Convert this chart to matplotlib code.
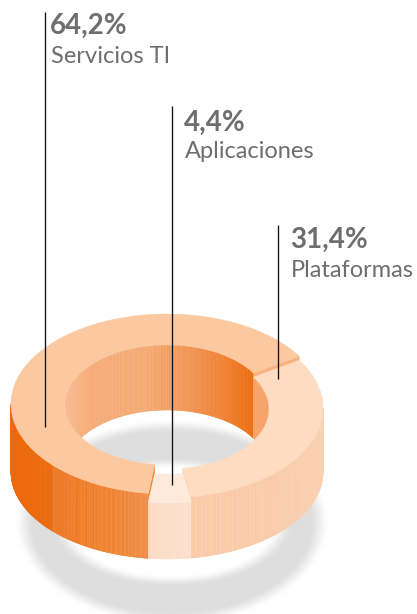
import numpy as np
import matplotlib
matplotlib.use("Agg")
import matplotlib.pyplot as plt
from matplotlib.collections import PolyCollection
from matplotlib.colors import to_rgb

# --- data
categories = ["Servicios TI", "Aplicaciones", "Plataformas"]
shares = [64.2, 4.4, 31.4]
share_labels = ["64,2%", "4,4%", "31,4%"]

# --- style
TOP = ["#fcc89f", "#feeadb", "#fddcc2"]
GREY = "#6e6e6e"
START = 32.0
CX, RX, RXI, RY, RYI = 167.0, 156.0, 102.0, 90.0, 60.0
CY = [404.0, 413.0, 408.0]       # top-face centre of each piece (outer)
BOT_CY, BOT_RY = 472.0, 87.0
IBOT_CY, IBOT_RY = 470.0, 60.0

fig = plt.figure(figsize=(4.17, 6.14), dpi=100)
ax = fig.add_axes([0, 0, 1, 1])
ax.set_xlim(0, 417)
ax.set_ylim(614, 0)
ax.axis("off")

# angular spans derived from the shares
edges = START + np.cumsum([0] + shares) * 3.6


def smooth(v):
    v = np.clip(v, 0, 1)
    return v * v * (3 - 2 * v)


# soft shadow ring
yy, xx = np.mgrid[0:614, 0:417] + 0.5
ro = np.hypot((xx - 172) / 158, (yy - 522) / 103)
ri = np.hypot((xx - 172) / 100, (yy - 522) / 53)
v = smooth((1.0 - ro) / 0.13) * smooth((ri - 1.0) / 0.22)
img = 1 - v[..., None] * (1 - np.array(to_rgb("#dddedd")))
ax.imshow(img, extent=(0, 417, 614, 0), zorder=1, aspect="auto", interpolation="bilinear")
ax.set_xlim(0, 417)
ax.set_ylim(614, 0)


def stripe(x):
    return 0.5 + 0.5 * np.sin(x * 2.7) * np.sin(x * 0.61 + 1.0) * np.cos(x * 0.23)


def wall(a0, a1, rx, top_cy, top_ry, bot_cy, bot_ry, stops, amp, z):
    """Vertical wall between angles a0..a1 coloured by pixel column."""
    t = np.radians(np.linspace(a0, a1, int(abs(a1 - a0) * 2) + 2))
    x = CX + rx * np.cos(t)
    yt = top_cy - top_ry * np.sin(t)
    yb = bot_cy - bot_ry * np.sin(t)
    polys, cols = [], []
    sx, sc = zip(*[(p, to_rgb(c)) for p, c in stops])
    sc = np.array(sc)
    for i in range(len(t) - 1):
        polys.append([(x[i], yt[i]), (x[i + 1], yt[i + 1]), (x[i + 1], yb[i + 1]), (x[i], yb[i])])
        xm = (x[i] + x[i + 1]) / 2
        c = np.array([np.interp(xm, sx, sc[:, k]) for k in range(3)])
        m = amp(xm) * stripe(xm)
        cols.append(c + (1 - c) * m)
    ax.add_collection(PolyCollection(polys, facecolors=cols, edgecolors=cols, linewidths=0.4, zorder=z))


def top_face(a0, a1, cy, color, z):
    t = np.radians(np.linspace(a0, a1, 200))
    oy = cy - RY * np.sin(t)
    iy = cy + 1 - RYI * np.sin(t)
    ox, ix = CX + RX * np.cos(t), CX + RXI * np.cos(t)
    pts = np.r_[np.c_[ox, oy], np.c_[ix, iy][::-1]]
    ax.fill(pts[:, 0], pts[:, 1], color=color, lw=0.3, zorder=z)


def end_face(a, cy, drop, color, z):
    t = np.radians(a)
    p = [(CX + RX * np.cos(t), cy - RY * np.sin(t)), (CX + RXI * np.cos(t), cy + 1 - RYI * np.sin(t))]
    q = [(p[1][0], p[1][1] + drop), (p[0][0], p[0][1] + drop)]
    arr = np.array(p + q)
    ax.fill(arr[:, 0], arr[:, 1], color=color, lw=0.3, zorder=z)


# inner back walls
wall(edges[0], 180, RXI, CY[0] + 1, RYI, IBOT_CY, IBOT_RY,
     [(65, "#f7b88c"), (90, "#f5a56c"), (150, "#f39a5a"), (200, "#f08438"), (253, "#ec6a0c")],
     lambda x: 0.3 * (1 - abs(x - 140) / 160), 2)
wall(0, edges[0], RXI, CY[2] + 1, RYI, IBOT_CY, IBOT_RY,
     [(253, "#f6a46c"), (270, "#f6a46c")], lambda x: 0.0, 2)

# outer front walls
wall(180, edges[1], RX, CY[0], RY, BOT_CY, BOT_RY,
     [(11, "#ec6a0c"), (53, "#ec6a0c"), (100, "#ee7418"), (147, "#ef8236")],
     lambda x: 0.0 if x < 53 else 0.18, 3)
wall(edges[1], edges[2], RX, CY[1], RY, BOT_CY, BOT_RY,
     [(146, "#fbd6bb"), (190, "#fcdcc6")], lambda x: 0.25, 3)
wall(edges[2], 360, RX, CY[2], RY, BOT_CY, BOT_RY,
     [(190, "#f9c39a"), (260, "#fac49c"), (323, "#fbcba9")], lambda x: 0.25, 3)

# faces exposed by the offset pieces
end_face(edges[0], CY[0], CY[2] - CY[0], "#f9b27e", 4)
end_face(edges[1], CY[0], CY[1] - CY[0], "#f08a3f", 4)
end_face(edges[2], CY[2], CY[1] - CY[2], "#fbd0ae", 4)

# top faces
top_face(edges[0], edges[1], CY[0], TOP[0], 5)
top_face(edges[1], edges[2], CY[1], TOP[1], 5)
top_face(edges[2], edges[3], CY[2], TOP[2], 5)

# leader lines and labels
line_x = [45.5, 172.5, 278.5]
line_top = [12, 106, 225]
line_bottom = [427, 485, 379]
text_x = [50, 184, 290]
value_y = [34, 131, 248]
name_y = [63, 158, 277]
for i, cat in enumerate(categories):
    ax.plot([line_x[i]] * 2, [line_top[i], line_bottom[i]], color="#111111", lw=0.95, zorder=6, solid_capstyle="butt")
    ax.text(text_x[i], value_y[i], share_labels[i], family="Lato", weight="bold", fontsize=20, color=GREY,
            ha="left", va="baseline", zorder=7)
    ax.text(text_x[i] + 1, name_y[i], cat, family="Lato", fontsize=17, color=GREY,
            ha="left", va="baseline", zorder=7)

fig.savefig("out.png", dpi=100)
